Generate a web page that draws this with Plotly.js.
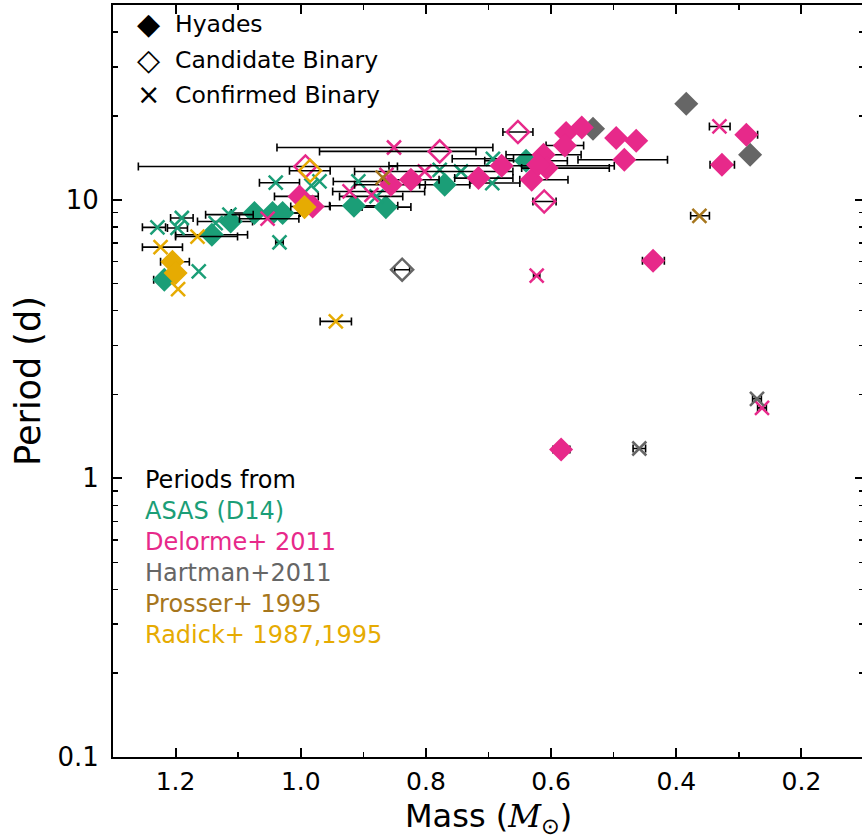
<!DOCTYPE html>
<html>
<head>
<meta charset="utf-8">
<script src="https://cdn.plot.ly/plotly-3.0.1.min.js"></script>
<style>
  html, body { margin: 0; padding: 0; background: #fff; overflow: hidden; }
  #chart { width: 864px; height: 840px; }
</style>
</head>
<body>
<div id="chart"></div>
<script>
// Hyades rotation periods vs. stellar mass, by period source and binarity.
// Mass errors: "Hi" = toward higher mass, "Lo" = toward lower mass (null = no bar).

// ASAS (D14)
const asasSingleMass   = [1.218, 1.142, 1.112, 1.074, 1.045, 1.029, 0.915, 0.864, 0.770, 0.640];
const asasSinglePeriod = [5.16, 7.49, 8.36, 8.96, 8.96, 8.96, 9.52, 9.41, 11.32, 13.8];
const asasSingleErrHi  = [0.017, 0.058, 0.053, 0.037, 0.029, null, 0.039, 0.038, 0.040, 0.066];
const asasSingleErrLo  = [0.018, 0.057, 0.035, 0.073, 0.043, null, 0.070, 0.040, 0.040, 0.066];

const asasBinMass   = [1.229, 1.190, 1.197, 1.114, 1.163, 1.034, 1.040, 0.983, 0.970, 0.908, 0.879, 0.778, 0.744, 0.693, 0.694, 1.136];
const asasBinPeriod = [7.96, 8.60, 7.92, 8.84, 5.53, 7.03, 11.51, 11.23, 11.63, 11.63, 10.28, 12.81, 12.63, 14.03, 11.48, 8.25];
const asasBinErrHi  = [0.024, 0.018, 0.016, 0.038, null, 0.006, 0.026, null, null, 0.040, 0.059, null, null, 0.065, 0.036, null];
const asasBinErrLo  = [0.013, 0.018, 0.016, 0.038, null, 0.006, 0.038, null, null, 0.043, 0.042, null, null, 0.033, 0.044, null];

// Delorme+ 2011
const delSingleMass   = [1.002, 0.981, 0.856, 0.824, 0.716, 0.679, 0.631, 0.612, 0.607, 0.621, 0.576, 0.578, 0.551, 0.496, 0.464, 0.483, 0.437, 0.327, 0.288, 0.584];
const delSinglePeriod = [10.28, 9.46, 11.32, 11.80, 11.96, 13.24, 11.80, 14.50, 12.99, 13.35, 17.35, 15.66, 18.18, 16.65, 16.28, 13.92, 6.04, 13.35, 17.12, 1.27];
const delSingleErrHi  = [0.040, 0.035, 0.058, 0.045, 0.038, 0.180, 0.019, 0.060, 0.040, null, null, 0.030, null, null, null, 0.074, 0.017, 0.019, 0.009, 0.013];
const delSingleErrLo  = [0.030, 0.028, 0.055, 0.045, 0.055, 0.180, 0.058, 0.060, 0.100, null, null, 0.030, null, null, null, 0.069, 0.018, 0.020, 0.018, 0.014];

const delCandMass   = [0.9925, 0.778, 0.653, 0.611];
const delCandPeriod = [13.16, 14.91, 17.50, 9.86];
const delCandErrHi  = [0.267, 0.192, 0.024, 0.018];
const delCandErrLo  = [0.147, 0.058, 0.024, 0.019];

const delBinMass   = [0.851, 0.802, 0.863, 0.922, 0.887, 1.053, 0.623, 0.331, 0.263];
const delBinPeriod = [15.40, 12.63, 12.29, 10.71, 10.42, 8.55, 5.34, 18.33, 1.79];
const delBinErrHi  = [0.187, 0.112, null, 0.027, null, 0.045, 0.005, 0.016, 0.007];
const delBinErrLo  = [0.158, 0.141, null, 0.120, null, 0.050, 0.005, 0.017, 0.007];

// Hartman+2011
const hatSingleMass   = [0.384, 0.533, 0.282];
const hatSinglePeriod = [22.11, 17.98, 14.50];
const hatCandMass   = [0.838];
const hatCandPeriod = [5.61];
const hatCandErrHi  = [0.012];
const hatCandErrLo  = [0.012];
const hatBinMass   = [0.271, 0.459];
const hatBinPeriod = [1.93, 1.28];
const hatBinErrHi  = [0.007, 0.010];
const hatBinErrLo  = [0.007, 0.010];

// Prosser+ 1995
const proBinMass   = [0.363, 0.869];
const proBinPeriod = [8.76, 12.0];
const proBinErrHi  = [0.014, null];
const proBinErrLo  = [0.016, null];

// Radick+ 1987,1995
const radSingleMass   = [1.205, 1.200, 0.994];
const radSinglePeriod = [5.99, 5.46, 9.41];
const radSingleErrHi  = [0.019, null, null];
const radSingleErrLo  = [0.027, null, null];
const radCandMass   = [0.985];
const radCandPeriod = [12.71];
const radCandErrHi  = [0.033];
const radCandErrLo  = [0.032];
const radBinMass   = [1.224, 1.196, 1.165, 0.944];
const radBinPeriod = [6.76, 4.78, 7.38, 3.66];
const radBinErrHi  = [0.029, null, 0.035, 0.025];
const radBinErrLo  = [0.035, null, 0.064, 0.025];

// Source labels and colours
const sourceNames  = ['ASAS (D14)', 'Delorme+ 2011', 'Hartman+2011', 'Prosser+ 1995', 'Radick+ 1987,1995'];
const sourceColors = ['#1b9e77', '#e7298a', '#666666', '#a6761d', '#e6ab02'];
const [GREEN, PINK, GRAY, BROWN, GOLD] = sourceColors;

const FONT = 'DejaVu Sans, sans-serif';

function errArr(a) { return a ? a.map(v => (v === null ? NaN : v)) : null; }

function makeTrace(mass, period, hi, lo, color, kind) {
  const t = {
    type: 'scatter', mode: 'markers', x: mass, y: period,
    hoverinfo: 'skip', showlegend: false, cliponaxis: true
  };
  if (kind === 'filled') {
    t.marker = { symbol: 'diamond', size: 18.5, color: color, line: { width: 0 } };
  } else if (kind === 'open') {
    t.marker = { symbol: 'diamond-open', size: 17, color: color, line: { width: 2.5, color: color } };
  } else {
    t.marker = { symbol: 'x-thin-open', size: 14, color: color, line: { width: 2.5, color: color } };
  }
  if (hi) {
    t.error_x = {
      type: 'data', symmetric: false, array: errArr(hi), arrayminus: errArr(lo),
      color: '#000', thickness: 1.6, width: 4
    };
  }
  return t;
}

const data = [
  makeTrace(hatSingleMass, hatSinglePeriod, null, null, GRAY, 'filled'),
  makeTrace(asasSingleMass, asasSinglePeriod, asasSingleErrHi, asasSingleErrLo, GREEN, 'filled'),
  makeTrace(asasBinMass, asasBinPeriod, asasBinErrHi, asasBinErrLo, GREEN, 'x'),
  makeTrace(delBinMass, delBinPeriod, delBinErrHi, delBinErrLo, PINK, 'x'),
  makeTrace(delSingleMass, delSinglePeriod, delSingleErrHi, delSingleErrLo, PINK, 'filled'),
  makeTrace(delCandMass, delCandPeriod, delCandErrHi, delCandErrLo, PINK, 'open'),
  makeTrace(hatCandMass, hatCandPeriod, hatCandErrHi, hatCandErrLo, GRAY, 'open'),
  makeTrace(hatBinMass, hatBinPeriod, hatBinErrHi, hatBinErrLo, GRAY, 'x'),
  makeTrace(proBinMass, proBinPeriod, proBinErrHi, proBinErrLo, BROWN, 'x'),
  makeTrace(radSingleMass, radSinglePeriod, radSingleErrHi, radSingleErrLo, GOLD, 'filled'),
  makeTrace(radCandMass, radCandPeriod, radCandErrHi, radCandErrLo, GOLD, 'open'),
  makeTrace(radBinMass, radBinPeriod, radBinErrHi, radBinErrLo, GOLD, 'x')
];

// Axis ticks
const massTicks = [1.2, 1.0, 0.8, 0.6, 0.4, 0.2];
const massTickText = ['1.2', '1.0', '0.8', '0.6', '0.4', '0.2'];
const massMinor = [1.1, 0.9, 0.7, 0.5, 0.3];
const periodTicks = [0.1, 1, 10];
const periodTickText = ['0.1', '1', '10'];
const periodMinor = [0.2, 0.3, 0.4, 0.5, 0.6, 0.7, 0.8, 0.9, 2, 3, 4, 5, 6, 7, 8, 9, 20, 30, 40];

// Marker key and source list drawn as text
const keyGlyphs = ['◆', '◇', '×'];
const keyLabels = ['Hyades', 'Candidate Binary', 'Confirmed Binary'];

const annotations = [];
const plotH = 752, plotW = 751;
const keyY = [24, 60, 95];
keyLabels.forEach((lab, i) => {
  const yp = 1 - (keyY[i] - 5) / plotH;
  annotations.push({
    xref: 'paper', yref: 'paper', x: (148 - 113) / plotW, y: yp,
    xanchor: 'center', yanchor: 'middle', showarrow: false,
    text: keyGlyphs[i], font: { family: FONT, size: i === 2 ? 28 : 30, color: '#000' }
  });
  annotations.push({
    xref: 'paper', yref: 'paper', x: (173 - 113) / plotW, y: yp,
    xanchor: 'left', yanchor: 'middle', showarrow: false,
    text: lab, font: { family: FONT, size: 23.5, color: '#000' }
  });
});

const srcY0 = 480, srcStep = 31;
annotations.push({
  xref: 'paper', yref: 'paper', x: (143 - 113) / plotW, y: 1 - (srcY0 - 5) / plotH,
  xanchor: 'left', yanchor: 'middle', showarrow: false,
  text: 'Periods from', font: { family: FONT, size: 24, color: '#000' }
});
sourceNames.forEach((name, i) => {
  annotations.push({
    xref: 'paper', yref: 'paper', x: (143 - 113) / plotW,
    y: 1 - (srcY0 + srcStep * (i + 1) - 5) / plotH,
    xanchor: 'left', yanchor: 'middle', showarrow: false,
    text: name, font: { family: FONT, size: 24, color: sourceColors[i] }
  });
});

// x-axis title, placed below the tick labels
annotations.push({
  xref: 'paper', yref: 'paper', x: 0.5, y: -(818 - 757) / plotH,
  xanchor: 'center', yanchor: 'middle', showarrow: false,
  text: 'Mass (<span style="font-family:\'DejaVu Serif\'"><i>M</i></span><sub>⊙</sub>)',
  font: { family: FONT, size: 32, color: '#000' }
});

const layout = {
  width: 864, height: 840,
  margin: { l: 113, r: 0, t: 5, b: 83 },
  paper_bgcolor: '#fff', plot_bgcolor: '#fff',
  font: { family: FONT, color: '#000' },
  showlegend: false,
  xaxis: {
    range: [1.3, 0.1], autorange: false,
    showgrid: false, zeroline: false,
    showline: true, linecolor: '#000', linewidth: 2, mirror: 'ticks',
    ticks: 'inside', ticklen: 9, tickwidth: 2, tickcolor: '#000',
    tickmode: 'array', tickvals: massTicks, ticktext: massTickText,
    tickfont: { family: FONT, size: 25, color: '#000' },
    ticklabelstandoff: 1,
    minor: { tickmode: 'array', tickvals: massMinor, ticks: 'inside', ticklen: 5, tickwidth: 1.5, tickcolor: '#000', showgrid: false }
  },
  yaxis: {
    type: 'log', range: [-1, Math.log10(50)], autorange: false,
    showgrid: false, zeroline: false,
    showline: true, linecolor: '#000', linewidth: 2, mirror: 'ticks',
    ticks: 'inside', ticklen: 9, tickwidth: 2, tickcolor: '#000',
    tickmode: 'array', tickvals: periodTicks, ticktext: periodTickText,
    tickfont: { family: FONT, size: 26, color: '#000' },
    ticklabelstandoff: 7,
    minor: { tickmode: 'array', tickvals: periodMinor, ticks: 'inside', ticklen: 5, tickwidth: 1.5, tickcolor: '#000', showgrid: false },
    title: { text: 'Period (d)', font: { family: FONT, size: 35, color: '#000' }, standoff: 6 }
  },
  annotations: annotations
};

Plotly.newPlot('chart', data, layout, { displayModeBar: false, staticPlot: true });
</script>
</body>
</html>
